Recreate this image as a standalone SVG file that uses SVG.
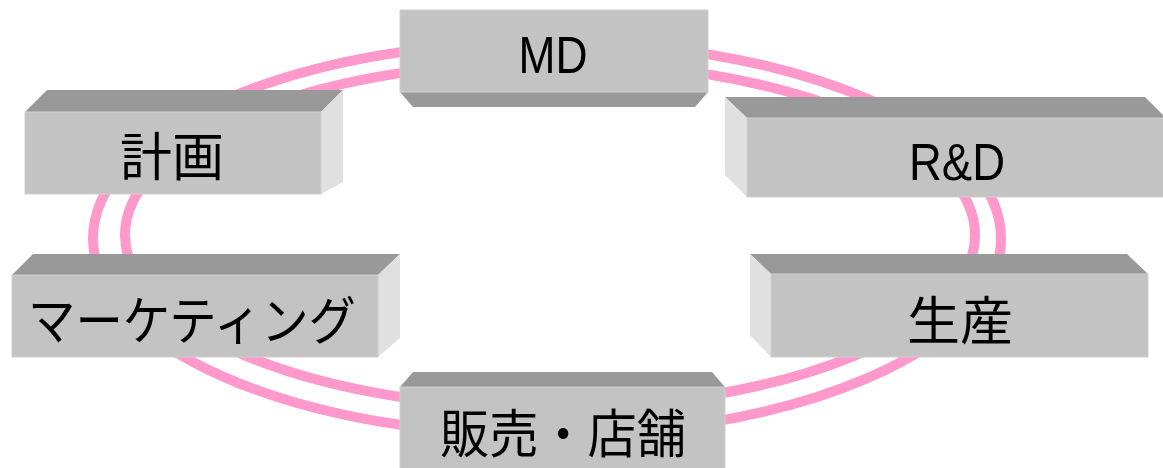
<svg xmlns="http://www.w3.org/2000/svg" width="1163" height="468" viewBox="0 0 1163 468">
  <style>
    .ring { fill: none; stroke: #FF99CC; stroke-width: 10; }
    .front { fill: #C3C3C3; stroke: #CFCFCF; stroke-width: 1; }
    .top { fill: #999999; }
    .side { fill: #E0E0E0; }
    .lat { font-family: "Liberation Sans", Arial, sans-serif; font-size: 52px; fill: #000; text-anchor: middle; }
    .jp { font-family: "Noto Sans CJK JP", "Noto Sans CJK SC", sans-serif; font-size: 52px; fill: #000; text-anchor: middle; }
  </style>
  <rect width="1163" height="468" fill="#FFFFFF"/>
  <g id="connectors">
    <ellipse class="ring" cx="547" cy="238.5" rx="454" ry="197"/>
    <ellipse class="ring" cx="550" cy="235" rx="425" ry="173"/>
  </g>
  <g id="node-md">
    <polygon class="top" points="400,92 708,92 695,107 413,107"/>
    <rect class="front" x="400" y="10" width="308" height="82"/>
    <text class="lat" x="553" y="73" textLength="69" lengthAdjust="spacingAndGlyphs">MD</text>
  </g>
  <g id="node-keikaku">
    <polygon class="top" points="25,112 47,90 343,90 321,112"/>
    <polygon class="side" points="321,112 343,90 343,182 321,194"/>
    <rect class="front" x="25" y="112" width="296" height="82"/>
    <text class="jp" x="172" y="176" textLength="104" lengthAdjust="spacingAndGlyphs">計画</text>
  </g>
  <g id="node-rd">
    <polygon class="top" points="725,97 1145,97 1166,118 747,118"/>
    <polygon class="side" points="725,97 747,118 747,197 725,175"/>
    <rect class="front" x="747" y="118" width="425" height="79"/>
    <text class="lat" x="957" y="180" textLength="96" lengthAdjust="spacingAndGlyphs">R&amp;D</text>
  </g>
  <g id="node-marketing">
    <polygon class="top" points="12,275 33,254 400,254 378,275"/>
    <polygon class="side" points="378,275 400,254 400,338 378,357"/>
    <rect class="front" x="12" y="275" width="366" height="82"/>
    <text class="jp" x="192" y="340" textLength="328" lengthAdjust="spacingAndGlyphs">マーケティング</text>
  </g>
  <g id="node-seisan">
    <polygon class="top" points="750,254 1127,254 1148,274 771,274"/>
    <polygon class="side" points="750,254 771,274 771,357 750,335"/>
    <rect class="front" x="771" y="274" width="377" height="83"/>
    <text class="jp" x="960" y="340" textLength="106" lengthAdjust="spacingAndGlyphs">生産</text>
  </g>
  <g id="node-hanbai">
    <polygon class="top" points="400,387 413,372 712,372 725,387"/>
    <rect class="front" x="400" y="387" width="325" height="90"/>
    <text class="jp" x="563" y="453" textLength="246" lengthAdjust="spacingAndGlyphs">販売・店舗</text>
  </g>
</svg>
